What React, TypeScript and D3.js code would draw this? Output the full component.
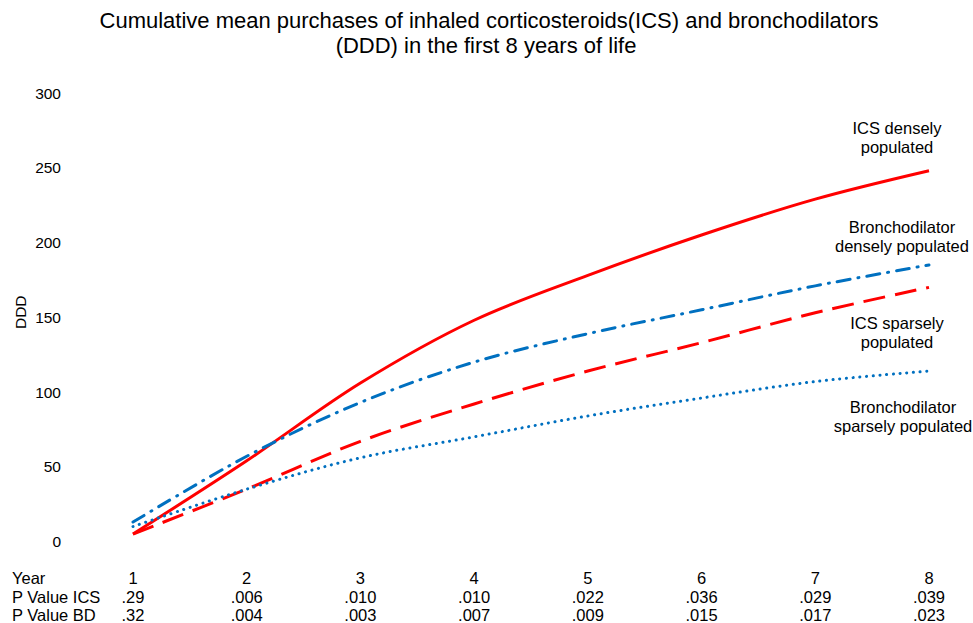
import React from 'react';
import * as d3 from 'd3';

// values (DDD, cumulative mean)
const years = [1, 2, 3, 4, 5, 6, 7, 8];
const icsDense = [5, 54, 106, 148, 178, 205, 229, 248];
const bdDense = [13, 57, 93, 120, 139, 155, 171, 185];
const icsSparse = [5, 35, 67, 92, 114, 133, 153, 170];
const bdSparse = [10, 35, 56, 70, 84, 96, 107, 114];
const yTicks = [0, 50, 100, 150, 200, 250, 300];
const pIcs = ['.29', '.006', '.010', '.010', '.022', '.036', '.029', '.039'];
const pBd = ['.32', '.004', '.003', '.007', '.009', '.015', '.017', '.023'];

const RED = '#ff0000';
const BLUE = '#0070c0';
const FONT = '"Liberation Sans", Arial, sans-serif';

const W = 973, H = 623;

export default function App() {
  const x = d3.scaleLinear().domain([1, 8]).range([133, 929]);
  const y = d3.scaleLinear().domain([0, 300]).range([541.5, 93]);

  const line = d3.line<number>()
    .x((d, i) => x(years[i]))
    .y(d => y(d))
    .curve(d3.curveCatmullRom.alpha(0.5));

  const series = [
    { name: 'icsDense', values: icsDense, color: RED, width: 3, dash: null, cap: 'butt' },
    { name: 'bdDense', values: bdDense, color: BLUE, width: 3, dash: '13,8,1,8', cap: 'round' },
    { name: 'icsSparse', values: icsSparse, color: RED, width: 3, dash: '22,10', cap: 'butt' },
    { name: 'bdSparse', values: bdSparse, color: BLUE, width: 3, dash: '0.1,6.6', cap: 'round' },
  ];

  // series annotations at the right end
  const notes = [
    { lines: ['ICS densely', 'populated'], x: 897, y: 134 },
    { lines: ['Bronchodilator', 'densely populated'], x: 902, y: 233 },
    { lines: ['ICS sparsely', 'populated'], x: 897, y: 329 },
    { lines: ['Bronchodilator', 'sparsely populated'], x: 903, y: 413 },
  ];

  const rows = [
    { label: 'Year', vals: years.map(String), y: 584 },
    { label: 'P Value ICS', vals: pIcs, y: 602.5 },
    { label: 'P Value BD', vals: pBd, y: 621 },
  ];

  return (
    <svg width={W} height={H} style={{ position: 'absolute', left: 0, top: 0, background: '#fff' }}
      fontFamily={FONT}>
      <rect width={W} height={H} fill="#fff" />
      <text x={489} y={28} textAnchor="middle" fontSize={22} fill="#000">
        Cumulative mean purchases of inhaled corticosteroids(ICS) and bronchodilators
      </text>
      <text x={486} y={53} textAnchor="middle" fontSize={22} fill="#000">
        (DDD) in the first 8 years of life
      </text>

      {yTicks.map(t => (
        <text key={t} x={61} y={y(t)} dy="0.36em" textAnchor="end" fontSize={15.5} fill="#000">{t}</text>
      ))}
      <text transform={`translate(26,${y(150) - 5}) rotate(-90)`} textAnchor="middle" fontSize={15.5} fill="#000">DDD</text>

      {series.map(s => (
        <path key={s.name} d={line(s.values) || ''} fill="none" stroke={s.color}
          strokeWidth={s.width} strokeDasharray={s.dash || undefined} strokeLinecap={s.cap as any} />
      ))}

      {notes.map((n, i) => (
        <text key={i} textAnchor="middle" fontSize={16.5} fill="#000">
          {n.lines.map((l, j) => (
            <tspan key={j} x={n.x} y={n.y + j * 18.5}>{l}</tspan>
          ))}
        </text>
      ))}

      {rows.map(r => (
        <g key={r.label}>
          <text x={12} y={r.y} fontSize={16.5} fill="#000">{r.label}</text>
          {r.vals.map((v, i) => (
            <text key={i} x={x(years[i])} y={r.y} textAnchor="middle" fontSize={16.5} fill="#000">{v}</text>
          ))}
        </g>
      ))}
    </svg>
  );
}
